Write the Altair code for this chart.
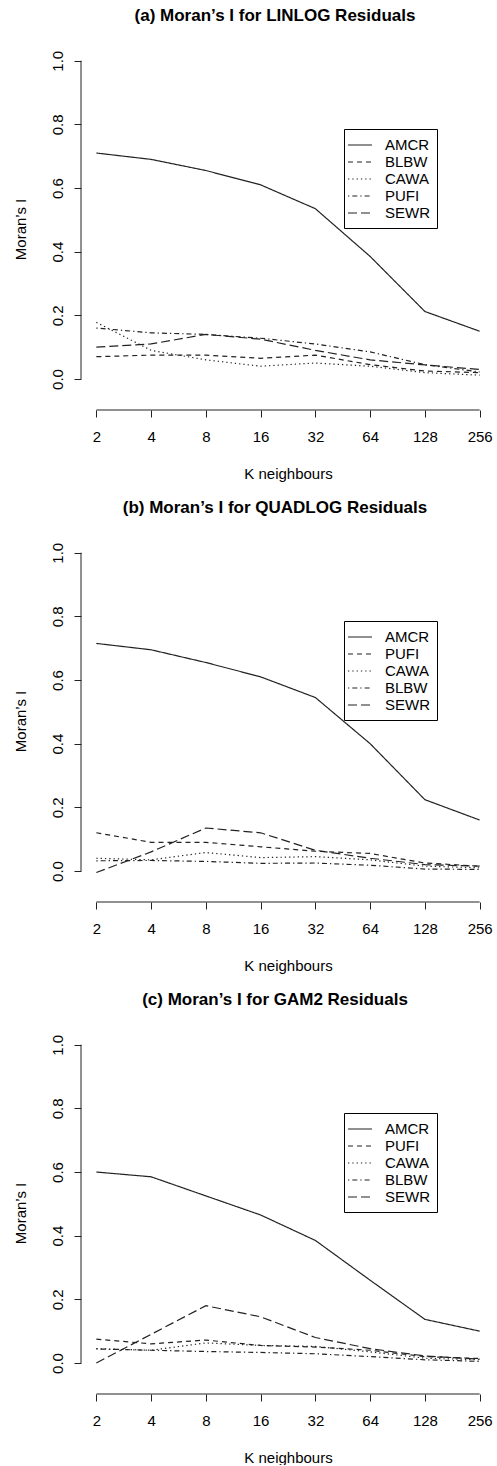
import altair as alt
import pandas as pd

FONT = "Liberation Sans"
INK = "#222222"

# ---------------- data ----------------
K = [2, 4, 8, 16, 32, 64, 128, 256]
Y_TICKS = [0.0, 0.2, 0.4, 0.6, 0.8, 1.0]

# (a) LINLOG
a_AMCR = [0.710, 0.690, 0.655, 0.610, 0.535, 0.385, 0.212, 0.150]
a_BLBW = [0.070, 0.075, 0.075, 0.065, 0.075, 0.045, 0.025, 0.020]
a_CAWA = [0.178, 0.090, 0.060, 0.040, 0.050, 0.040, 0.020, 0.012]
a_PUFI = [0.160, 0.145, 0.140, 0.128, 0.110, 0.085, 0.045, 0.022]
a_SEWR = [0.100, 0.110, 0.140, 0.125, 0.090, 0.060, 0.044, 0.030]

# (b) QUADLOG
b_AMCR = [0.715, 0.695, 0.655, 0.610, 0.545, 0.400, 0.224, 0.160]
b_PUFI = [0.120, 0.090, 0.090, 0.076, 0.062, 0.055, 0.025, 0.015]
b_CAWA = [0.040, 0.035, 0.058, 0.042, 0.045, 0.035, 0.015, 0.010]
b_BLBW = [0.032, 0.033, 0.030, 0.024, 0.025, 0.018, 0.006, 0.005]
b_SEWR = [-0.005, 0.060, 0.135, 0.120, 0.065, 0.040, 0.020, 0.015]

# (c) GAM2
c_AMCR = [0.600, 0.585, 0.525, 0.465, 0.385, 0.260, 0.137, 0.100]
c_PUFI = [0.075, 0.060, 0.072, 0.055, 0.050, 0.040, 0.020, 0.014]
c_CAWA = [0.045, 0.040, 0.063, 0.055, 0.052, 0.035, 0.015, 0.010]
c_BLBW = [0.044, 0.040, 0.036, 0.033, 0.029, 0.020, 0.010, 0.005]
c_SEWR = [0.000, 0.090, 0.180, 0.145, 0.080, 0.045, 0.022, 0.012]

TITLES = ["(a) Moran\u2019s I for LINLOG Residuals",
          "(b) Moran\u2019s I for QUADLOG Residuals",
          "(c) Moran\u2019s I for GAM2 Residuals"]
ORDERS = [["AMCR", "BLBW", "CAWA", "PUFI", "SEWR"],
          ["AMCR", "PUFI", "CAWA", "BLBW", "SEWR"],
          ["AMCR", "PUFI", "CAWA", "BLBW", "SEWR"]]
SERIES = [
    {"AMCR": a_AMCR, "BLBW": a_BLBW, "CAWA": a_CAWA, "PUFI": a_PUFI, "SEWR": a_SEWR},
    {"AMCR": b_AMCR, "PUFI": b_PUFI, "CAWA": b_CAWA, "BLBW": b_BLBW, "SEWR": b_SEWR},
    {"AMCR": c_AMCR, "PUFI": c_PUFI, "CAWA": c_CAWA, "BLBW": c_BLBW, "SEWR": c_SEWR},
]

# R line types: solid, dashed, dotted, dotdash, longdash
DASHES = [[1, 0], [5, 4], [1.3, 3], [1.3, 3, 5, 3], [9, 4]]

W, H = 414, 362
X_DOM = [2 ** 0.72, 2 ** 8.28]
Y_DOM = [-0.0975, 1.04]


def panel(i):
    order = ORDERS[i]
    rows = []
    for name in order:
        for k, v in zip(K, SERIES[i][name]):
            rows.append({"k": k, "v": v, "series": name})
    df = pd.DataFrame(rows)

    xscale = alt.Scale(type="log", base=2, domain=X_DOM, nice=False, zero=False)
    yscale = alt.Scale(domain=Y_DOM, nice=False, zero=False)

    lines = alt.Chart(df).mark_line(strokeWidth=1.2, color=INK).encode(
        x=alt.X("k:Q", scale=xscale,
                axis=alt.Axis(values=K, format="d", domain=False, grid=False,
                              tickSize=7, tickColor=INK, tickWidth=1,
                              labelFontSize=15, labelFont=FONT, labelColor="black",
                              labelPadding=12, labelFlush=False, labelOverlap=False,
                              title="K neighbours", titleFont=FONT, titleFontSize=15,
                              titleFontWeight="normal", titleColor="black",
                              titlePadding=22)),
        y=alt.Y("v:Q", scale=yscale,
                axis=alt.Axis(values=Y_TICKS, format=".1f", domain=False, grid=False,
                              tickSize=7, tickColor=INK, tickWidth=1,
                              labelFontSize=15, labelFont=FONT, labelColor="black",
                              labelAngle=270, labelPadding=9, labelFlush=False,
                              labelOverlap=False,
                              title="Moran\u2019s I", titleFont=FONT, titleFontSize=15,
                              titleFontWeight="normal", titleColor="black",
                              titlePadding=22)),
        strokeDash=alt.StrokeDash(
            "series:N",
            scale=alt.Scale(domain=order, range=DASHES),
            legend=alt.Legend(title=None, orient="none", legendX=263, legendY=81,
                              direction="vertical", strokeColor="black", fillColor="white",
                              padding=7, cornerRadius=0,
                              symbolType="M-1.5,0L1.5,0", symbolSize=256,
                              symbolStrokeWidth=1.2, symbolStrokeColor=INK,
                              labelFontSize=15, labelFont=FONT, labelColor="black",
                              labelOffset=16, rowPadding=0)),
        order="k:Q",
    )

    xaxis_line = alt.Chart(pd.DataFrame({"k": [K[0]], "k2": [K[-1]]})).mark_rule(
        color=INK, strokeWidth=1).encode(
        x=alt.X("k:Q", scale=xscale), x2="k2:Q", y=alt.value(H))
    yaxis_line = alt.Chart(pd.DataFrame({"v": [Y_TICKS[0]], "v2": [Y_TICKS[-1]]})).mark_rule(
        color=INK, strokeWidth=1).encode(
        y=alt.Y("v:Q", scale=yscale), y2="v2:Q", x=alt.value(0))

    return alt.layer(lines, xaxis_line, yaxis_line).properties(
        width=W, height=H,
        title=alt.TitleParams(TITLES[i], font=FONT, fontSize=17, fontWeight="bold",
                              color="black", anchor="middle", frame="group", dx=-13,
                              offset=23),
    )


chart = alt.vconcat(panel(0), panel(1), panel(2), spacing=18).resolve_scale(
    strokeDash="independent", x="independent", y="independent"
).resolve_legend(strokeDash="independent").configure_view(stroke=None).properties(
    padding={"left": 13, "top": 7, "right": 0, "bottom": 0},
    background="white",
)

chart.save("out.html", embed_options={"renderer": "svg", "actions": False})
